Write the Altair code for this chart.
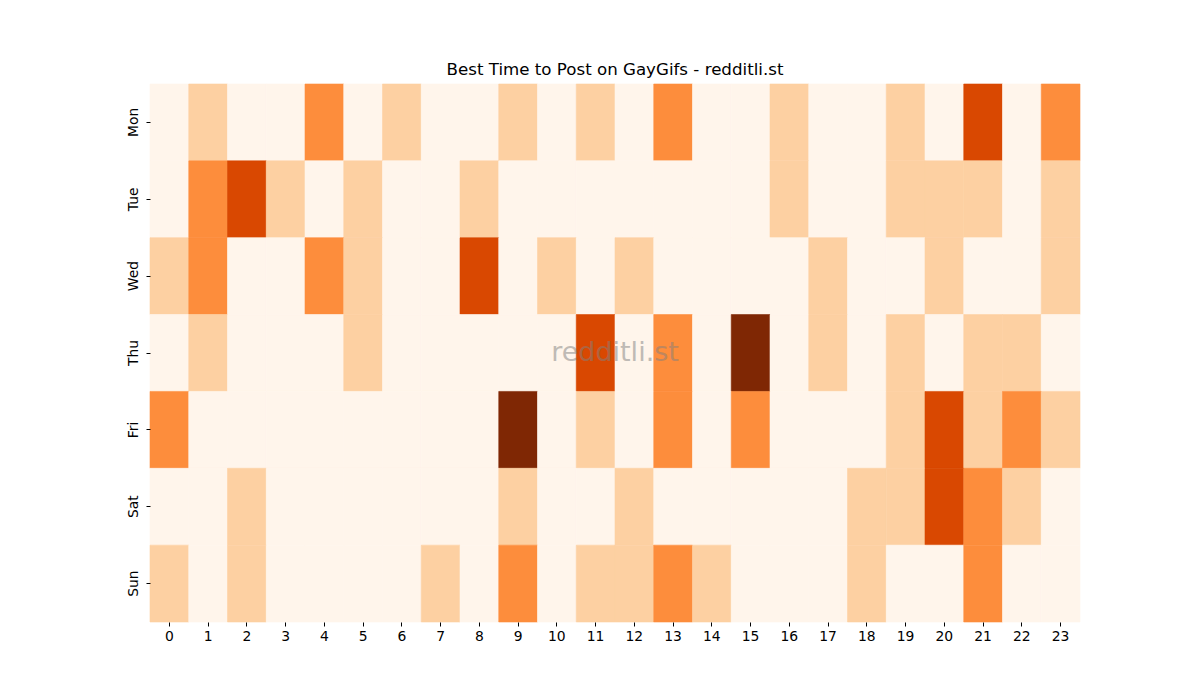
import altair as alt
import pandas as pd

days = ["Mon", "Tue", "Wed", "Thu", "Fri", "Sat", "Sun"]
hours = list(range(24))

mon = [0, 1, 0, 0, 2, 0, 1, 0, 0, 1, 0, 1, 0, 2, 0, 0, 1, 0, 0, 1, 0, 3, 0, 2]
tue = [0, 2, 3, 1, 0, 1, 0, 0, 1, 0, 0, 0, 0, 0, 0, 0, 1, 0, 0, 1, 1, 1, 0, 1]
wed = [1, 2, 0, 0, 2, 1, 0, 0, 3, 0, 1, 0, 1, 0, 0, 0, 0, 1, 0, 0, 1, 0, 0, 1]
thu = [0, 1, 0, 0, 0, 1, 0, 0, 0, 0, 0, 3, 0, 2, 0, 4, 0, 1, 0, 1, 0, 1, 1, 0]
fri = [2, 0, 0, 0, 0, 0, 0, 0, 0, 4, 0, 1, 0, 2, 0, 2, 0, 0, 0, 1, 3, 1, 2, 1]
sat = [0, 0, 1, 0, 0, 0, 0, 0, 0, 1, 0, 0, 1, 0, 0, 0, 0, 0, 1, 1, 3, 2, 1, 0]
sun = [1, 0, 1, 0, 0, 0, 0, 1, 0, 2, 0, 1, 1, 2, 1, 0, 0, 0, 1, 0, 0, 2, 0, 0]

rows = [mon, tue, wed, thu, fri, sat, sun]
levels = [0, 1, 2, 3, 4]
colors = ["#fff5eb", "#fdd0a2", "#fd8d3c", "#d94801", "#7f2704"]

records = []
for d, vals in zip(days, rows):
    for h, v in zip(hours, vals):
        records.append({"day": d, "hour": h, "value": v})
df = pd.DataFrame(records)

W, H = 930, 538
cscale = alt.Scale(domain=levels, range=colors)

heat = alt.Chart(df).mark_rect(strokeWidth=0.6).encode(
    x=alt.X("hour:O", sort=hours, title=None,
            scale=alt.Scale(paddingInner=0, paddingOuter=0),
            axis=alt.Axis(labelAngle=0, domain=False, ticks=True, tickSize=4,
                          tickColor="black", labelFontSize=13.9, labelColor="black",
                          labelFont="DejaVu Sans", labelPadding=3)),
    y=alt.Y("day:O", sort=days, title=None,
            scale=alt.Scale(paddingInner=0, paddingOuter=0),
            axis=alt.Axis(labelAngle=270, domain=False, ticks=True, tickSize=4,
                          tickColor="black", labelFontSize=13.9, labelColor="black",
                          labelFont="DejaVu Sans", labelPadding=6,
                          labelAlign="center", labelBaseline="bottom")),
    color=alt.Color("value:Q", legend=None, scale=cscale),
    stroke=alt.Stroke("value:Q", legend=None, scale=cscale),
)

watermark = alt.Chart(pd.DataFrame({"t": ["redditli.st"]})).mark_text(
    fontSize=27, font="DejaVu Sans", color="#808080", opacity=0.5,
    align="center", baseline="middle"
).encode(x=alt.value(W / 2), y=alt.value(H / 2), text="t:N")

chart = alt.layer(heat, watermark).properties(
    width=W, height=H,
    title=alt.TitleParams("Best Time to Post on GayGifs - redditli.st",
                          fontSize=16.67, font="DejaVu Sans", fontWeight="normal",
                          color="black", anchor="middle", offset=5),
    autosize=alt.AutoSizeParams(type="none"),
    padding={"left": 150, "top": 84, "right": 120, "bottom": 78},
).configure_view(stroke=None)

chart.save("out.html", embed_options={"renderer": "svg", "actions": False})
